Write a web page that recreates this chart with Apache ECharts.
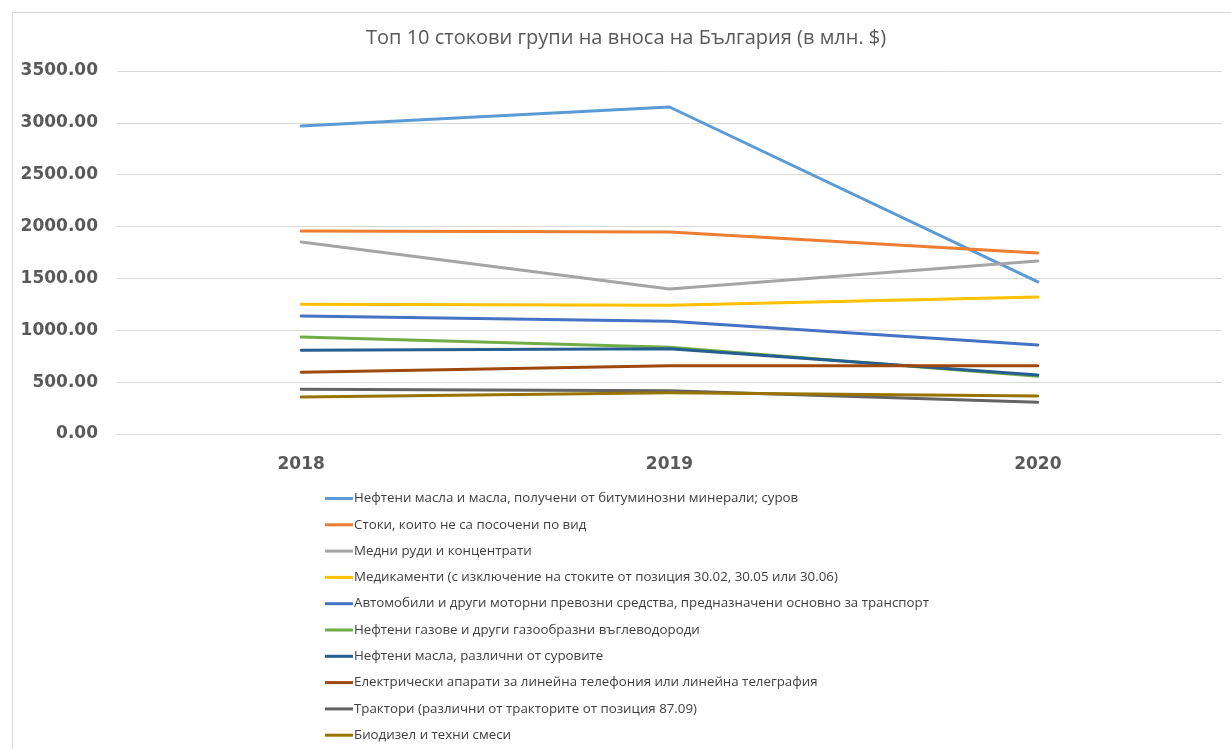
<!DOCTYPE html>
<html><head><meta charset="utf-8">
<script src="https://cdn.jsdelivr.net/npm/echarts@6/dist/echarts.min.js"></script>
<style>html,body{margin:0;padding:0;background:#fff}#c{width:1231px;height:749px}</style>
</head><body><div id="c"></div>
<script>
const categories = ['2018', '2019', '2020'];
const seriesNames = [
  'Нефтени масла и масла, получени от битуминозни минерали; суров',
  'Стоки, които не са посочени по вид',
  'Медни руди и концентрати',
  'Медикаменти (с изключение на стоките от позиция 30.02, 30.05 или 30.06)',
  'Автомобили и други моторни превозни средства, предназначени основно за транспорт',
  'Нефтени газове и други газообразни въглеводороди',
  'Нефтени масла, различни от суровите',
  'Електрически апарати за линейна телефония или линейна телеграфия',
  'Трактори (различни от тракторите от позиция 87.09)',
  'Биодизел и техни смеси'
];
const crudeOil = [2970, 3153, 1466];
const unspecified = [1958, 1948, 1745];
const copperOre = [1851, 1398, 1668];
const medicaments = [1251, 1241, 1321];
const cars = [1138, 1087, 858];
const petroleumGases = [935, 836, 556];
const refinedOil = [807, 822, 569];
const telephony = [595, 659, 659];
const tractors = [431, 418, 306];
const biodiesel = [357, 398, 366];
const yTicks = [0, 500, 1000, 1500, 2000, 2500, 3000, 3500];

const values = [crudeOil, unspecified, copperOre, medicaments, cars, petroleumGases, refinedOil, telephony, tractors, biodiesel];
const colors = ['#5B9BD5', '#ED7D31', '#A5A5A5', '#FFC000', '#4472C4', '#70AD47', '#255E91', '#9E480E', '#636363', '#997300'];

const chart = echarts.init(document.getElementById('c'));
chart.setOption({
  animation: false,
  color: colors,
  title: {
    text: 'Топ 10 стокови групи на вноса на България (в млн. $)',
    left: 361, top: 23,
    textStyle: { fontFamily: 'Open Sans', fontSize: 20, fontWeight: 'normal', color: '#595959' }
  },
  graphic: [{
    type: 'rect', left: 10, top: 10, z: -1,
    shape: { width: 1219, height: 745 },
    style: { fill: 'none', stroke: '#d9d9d9', lineWidth: 1 }
  }],
  grid: { left: 117, right: 9, top: 71, bottom: 315 },
  xAxis: {
    type: 'category', data: categories, boundaryGap: true,
    axisLine: { show: false }, axisTick: { show: false },
    axisLabel: { fontFamily: 'DejaVu Sans', fontWeight: 'bold', fontSize: 17, color: '#595959', margin: 22 }
  },
  yAxis: {
    type: 'value', min: yTicks[0], max: yTicks[yTicks.length - 1], interval: 500,
    axisLine: { show: false }, axisTick: { show: false },
    splitLine: { lineStyle: { color: '#d9d9d9', width: 1 } },
    axisLabel: { fontFamily: 'DejaVu Sans', fontWeight: 'bold', fontSize: 17, color: '#595959', margin: 19,
      padding: [4, 0, 0, 0], formatter: v => v.toFixed(2) }
  },
  legend: {
    orient: 'vertical', left: 325, top: 492, height: 300, padding: 0,
    itemWidth: 28, itemHeight: 12, itemGap: 13.3,
    data: seriesNames.map(n => ({ name: n, icon: 'path://M0,4.5 L28,4.5 L28,7.5 L0,7.5 Z' })),
    textStyle: { fontFamily: 'Open Sans', fontSize: 13.3, lineHeight: 12, color: '#404040', padding: [0, 0, 0, -4] }
  },
  series: seriesNames.map((n, i) => ({
    name: n, type: 'line', data: values[i], showSymbol: false, symbol: 'none',
    lineStyle: { width: 3, color: colors[i], cap: 'round', join: 'round' }
  }))
});
</script></body></html>
